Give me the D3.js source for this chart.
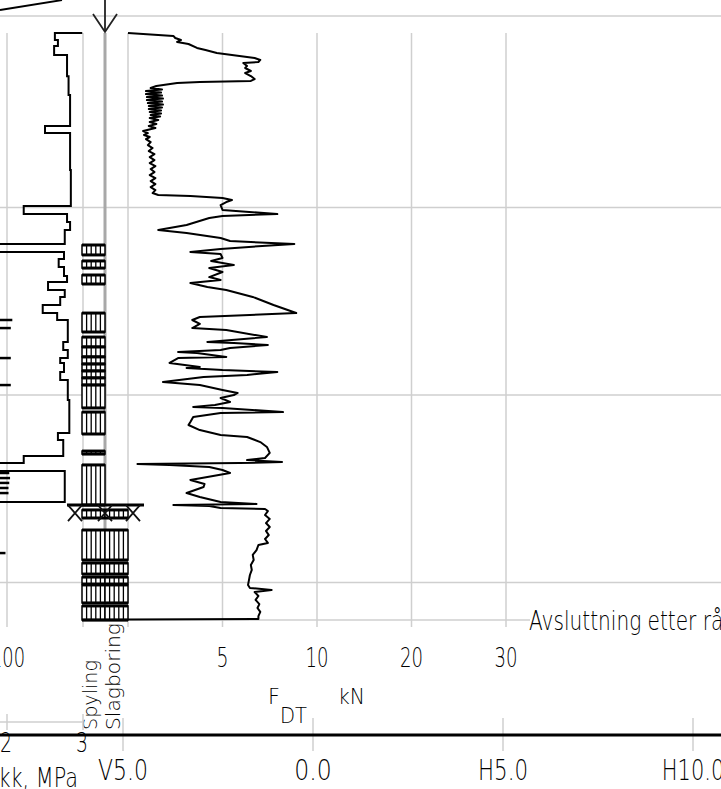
<!DOCTYPE html>
<html lang="no">
<head>
<meta charset="UTF-8">
<title>Totalsondering</title>
<style>
  body { margin: 0; background: #fff; }
  svg { display: block; background: #fff; }
  text { font-family: "DejaVu Sans", "Liberation Sans", sans-serif; font-weight: 300; fill: #000; }
</style>
</head>
<body>
<svg id="chart" width="721" height="789"></svg>
<script src="https://d3js.org/d3.v7.min.js"></script>
<script>
// ticks
const fdtTicks = [5, 10, 20, 30];
const pressureTicks = [2, 3];
const deviationTicks = [-5, 0, 5, 10];
const depthGrid = [1, 2, 3];

// F_DT (kN) against depth (m)
const fdtData = [
  [0.069, 0], [0.085, 2.4], [0.096, 2.5], [0.107, 2.8], [0.117, 2.6], [0.128, 3.2],
  [0.149, 3.65], [0.160, 4.1], [0.176, 4.7], [0.181, 5.1], [0.192, 5.9], [0.203, 6.7],
  [0.213, 7.0], [0.224, 6.9], [0.229, 6.1], [0.245, 6.3], [0.256, 6.2], [0.272, 6.5],
  [0.283, 6.2], [0.299, 6.5], [0.315, 6.7], [0.325, 6.5], [0.331, 3.8], [0.336, 2.6],
  [0.352, 1.5], [0.363, 1.2], [0.371, 1.8], [0.379, 0.95], [0.387, 1.75], [0.395, 0.95],
  [0.403, 1.8], [0.411, 1.0], [0.419, 1.85], [0.427, 1.0], [0.435, 1.8], [0.443, 1.05],
  [0.451, 1.85], [0.459, 1.1], [0.467, 1.8], [0.475, 1.1], [0.483, 1.75], [0.491, 1.15],
  [0.499, 1.75], [0.507, 1.2], [0.515, 1.7], [0.523, 1.15], [0.533, 1.6], [0.544, 1.15],
  [0.555, 1.5], [0.565, 1.1], [0.576, 1.45], [0.592, 0.8], [0.603, 1.05], [0.613, 0.85],
  [0.624, 1.15], [0.635, 0.95], [0.651, 1.2], [0.667, 1.05], [0.683, 1.3], [0.699, 1.1],
  [0.715, 1.4], [0.731, 1.15], [0.747, 1.4], [0.763, 1.15], [0.779, 1.45], [0.795, 1.2],
  [0.811, 1.4], [0.827, 1.15], [0.843, 1.45], [0.859, 1.2], [0.875, 1.45], [0.891, 1.2],
  [0.907, 1.45], [0.923, 1.3], [0.933, 1.6], [0.939, 3.3], [0.949, 5.0], [0.960, 5.5],
  [0.971, 5.2], [0.987, 4.9], [1.013, 5.0], [1.035, 7.9], [1.045, 5.0], [1.056, 4.3],
  [1.093, 3.1], [1.120, 1.6], [1.136, 3.1], [1.163, 4.9], [1.179, 5.4], [1.195, 8.8],
  [1.205, 7.1], [1.221, 4.9], [1.237, 3.3], [1.248, 4.9], [1.269, 5.0], [1.285, 4.4],
  [1.307, 5.6], [1.323, 4.3], [1.344, 5.0], [1.371, 4.3], [1.387, 4.9], [1.403, 3.3],
  [1.424, 4.2], [1.440, 5.2], [1.477, 6.6], [1.520, 7.7], [1.563, 8.9], [1.584, 3.8],
  [1.600, 3.4], [1.621, 3.8], [1.643, 3.4], [1.653, 5.2], [1.691, 7.35], [1.717, 4.2],
  [1.723, 5.6], [1.733, 7.4], [1.749, 5.4], [1.760, 4.9], [1.771, 2.65], [1.776, 3.65],
  [1.797, 5.2], [1.803, 2.65], [1.829, 2.2], [1.851, 3.8], [1.856, 3.1], [1.867, 5.0],
  [1.877, 7.9], [1.893, 6.3], [1.904, 4.0], [1.931, 1.85], [1.947, 3.8], [1.973, 5.0],
  [1.989, 5.8], [2.000, 5.6], [2.016, 4.9], [2.037, 5.4], [2.053, 4.6], [2.064, 3.45],
  [2.069, 5.0], [2.091, 8.2], [2.096, 4.9], [2.117, 3.45], [2.144, 3.3], [2.160, 3.2],
  [2.187, 3.8], [2.213, 4.9], [2.224, 6.3], [2.251, 7.0], [2.277, 7.35], [2.309, 7.5],
  [2.336, 7.25], [2.347, 6.3], [2.357, 8.15], [2.363, 5.9], [2.368, 0.5], [2.373, 2.2],
  [2.384, 4.3], [2.400, 5.0], [2.416, 5.4], [2.453, 3.3], [2.475, 4.05], [2.491, 4.0],
  [2.523, 3.1], [2.544, 3.8], [2.571, 4.9], [2.581, 6.8], [2.587, 2.4], [2.592, 4.3],
  [2.603, 4.9], [2.608, 7.25], [2.619, 7.4], [2.640, 7.25], [2.661, 7.5], [2.683, 7.3],
  [2.704, 7.5], [2.725, 7.3], [2.747, 7.45], [2.768, 7.25], [2.789, 7.4], [2.800, 6.9],
  [2.827, 6.8], [2.853, 6.6], [2.880, 6.65], [2.907, 6.5], [2.933, 6.55], [2.960, 6.45],
  [2.987, 6.4], [3.013, 6.35], [3.029, 6.45], [3.040, 7.6], [3.051, 6.7], [3.072, 6.9],
  [3.093, 6.75], [3.115, 6.95], [3.136, 6.85], [3.157, 7.0], [3.179, 6.9], [3.195, 6.9],
  [3.197, 0]
];

// pressure (MPa), stepwise: value holds from this depth to the next
const pressureData = [
  [0.069, 2.99], [0.069, 2.63], [0.107, 2.67], [0.139, 2.62], [0.187, 2.79], [0.300, 2.81],
  [0.400, 2.83], [0.565, 2.50], [0.603, 2.83], [0.800, 2.84], [0.992, 2.22], [1.035, 2.79],
  [1.077, 2.83], [1.120, 2.76], [1.195, 1.40], [1.237, 2.75], [1.275, 2.68], [1.317, 2.75],
  [1.365, 2.79], [1.397, 2.54], [1.440, 2.76], [1.477, 2.70], [1.520, 2.47], [1.563, 2.66],
  [1.600, 2.80], [1.717, 2.74], [1.760, 2.80], [1.803, 2.70], [1.829, 2.75], [1.877, 2.70],
  [1.920, 2.80], [2.027, 2.82], [2.203, 2.67], [2.240, 2.74], [2.325, 2.22], [2.363, 1.40],
  [2.405, 2.76], [2.571, 1.40], [3.200, 1.40]
];

// second pressure trace, only its peaks reach into view
const pressureSpikes = [
  [1.600, 2.07], [1.643, 2.05], [1.803, 2.05], [1.947, 2.05], [2.416, 2.03],
  [2.443, 2.04], [2.469, 2.03], [2.496, 2.02], [2.523, 2.02], [2.843, 1.98]
];

// drilling mode intervals [from, to] (m)
const spylingBlocks = [
  [1.200, 1.253], [1.285, 1.323], [1.360, 1.408], [1.563, 1.664], [1.691, 1.744],
  [1.744, 1.797], [1.797, 1.835], [1.835, 1.872], [1.872, 1.909], [1.909, 1.947],
  [1.947, 2.069], [2.091, 2.208], [2.299, 2.315], [2.373, 2.587], [2.613, 2.656],
  [2.720, 2.880], [2.896, 2.955], [2.971, 3.008], [3.013, 3.109], [3.125, 3.200]
];
const slagBlocks = [
  [2.613, 2.656], [2.720, 2.880], [2.896, 2.955], [2.971, 3.008], [3.013, 3.109], [3.125, 3.200]
];
const rockDepth = 2.587;
const endDepth = 3.2;
const stopText = "Avsluttning etter rådgivers ønske";

const svg = d3.select("#chart");

const y = d3.scaleLinear().domain([0, 3]).range([20, 582.5]);
const fx = d3.scaleLinear().domain([0, 10, 30]).range([128, 317, 506]);
const px = d3.scaleLinear().domain([2, 3]).range([7, 83]);
const dev = d3.scaleLinear().domain([-5, 10]).range([123, 693]);

const grid = "#cfcfcf";
const yTop = y(0.069);
const yEnd = y(endDepth);

function label(x, yy, s, size, len, anchor) {
  return svg.append("text")
    .attr("x", x).attr("y", yy)
    .attr("font-size", size)
    .attr("text-anchor", anchor || "middle")
    .attr("textLength", len)
    .attr("lengthAdjust", "spacingAndGlyphs")
    .text(s);
}

// gridlines
svg.append("line").attr("x1", 0).attr("x2", 721).attr("y1", 16).attr("y2", 16)
  .attr("stroke", grid).attr("stroke-width", 1.5);

const vLines = pressureTicks.map(px).concat([fx(0)], fdtTicks.map(fx));
svg.selectAll(".vgrid").data(vLines).join("line")
  .attr("x1", d => d).attr("x2", d => d)
  .attr("y1", yTop).attr("y2", yEnd + 7)
  .attr("stroke", grid).attr("stroke-width", 1.5);

svg.selectAll(".hgrid").data(depthGrid).join("line")
  .attr("x1", 0).attr("x2", 721)
  .attr("y1", d => y(d)).attr("y2", d => y(d))
  .attr("stroke", grid).attr("stroke-width", 1.5);

svg.append("line").attr("x1", fx(0)).attr("x2", 530).attr("y1", yEnd).attr("y2", yEnd)
  .attr("stroke", grid).attr("stroke-width", 1.5);

// centre line of the drill column
svg.append("line").attr("x1", 105).attr("x2", 105).attr("y1", yTop).attr("y2", yEnd)
  .attr("stroke", "#a8a8a8").attr("stroke-width", 3);

// drilling mode blocks
function drawBlocks(blocks, x0, x1) {
  const w = x1 - x0;
  const g = svg.append("g");
  blocks.forEach(b => {
    const t = y(b[0]), h = y(b[1]) - y(b[0]);
    g.append("rect").attr("x", x0).attr("y", t).attr("width", w).attr("height", h)
      .attr("fill", "#fff").attr("stroke", "#000").attr("stroke-width", 1.5);
    for (let k = 1; k < 5; k++) {
      const xx = x0 + k * w / 5;
      g.append("line").attr("x1", xx).attr("x2", xx).attr("y1", t).attr("y2", t + h)
        .attr("stroke", "#000").attr("stroke-width", 1.3);
    }
    [t, t + h].forEach(yy => g.append("line").attr("x1", x0).attr("x2", x1)
      .attr("y1", yy).attr("y2", yy).attr("stroke", "#000").attr("stroke-width", 3));
  });
}
drawBlocks(spylingBlocks, 82, 105);
drawBlocks(slagBlocks, 105, 128);

// rock / stop marker
const yr = y(rockDepth);
svg.append("line").attr("x1", 67).attr("x2", 144).attr("y1", yr).attr("y2", yr)
  .attr("stroke", "#000").attr("stroke-width", 3);
[75, 105, 133].forEach(cx => {
  svg.append("path")
    .attr("d", `M${cx - 7},${yr} L${cx + 7},${yr + 16} M${cx + 7},${yr} L${cx - 7},${yr + 16}`)
    .attr("stroke", "#111").attr("stroke-width", 1.8).attr("fill", "none");
});

// pressure curve
svg.append("path").datum(pressureData)
  .attr("d", d3.line().x(d => px(d[1])).y(d => y(d[0])).curve(d3.curveStepBefore))
  .attr("fill", "none").attr("stroke", "#000").attr("stroke-width", 2);

svg.selectAll(".spike").data(pressureSpikes).join("line")
  .attr("x1", -5).attr("x2", d => px(d[1]))
  .attr("y1", d => y(d[0])).attr("y2", d => y(d[0]))
  .attr("stroke", "#000").attr("stroke-width", 2.5);

// F_DT curve
svg.append("path").datum(fdtData)
  .attr("d", d3.line().x(d => fx(d[1])).y(d => y(d[0])))
  .attr("fill", "none").attr("stroke", "#000").attr("stroke-width", 2)
  .attr("stroke-linejoin", "round");

// bottom edge under curve and blocks
svg.append("line").attr("x1", 82).attr("x2", fx(0)).attr("y1", yEnd).attr("y2", yEnd)
  .attr("stroke", "#000").attr("stroke-width", 2.5);

// arrow and top line
svg.append("line").attr("x1", 105).attr("x2", 105).attr("y1", 0).attr("y2", 32)
  .attr("stroke", "#222").attr("stroke-width", 1.8);
svg.append("path").attr("d", "M93,14 L105,32 L117,14")
  .attr("fill", "none").attr("stroke", "#222").attr("stroke-width", 1.8);
svg.append("line").attr("x1", 0).attr("x2", 62).attr("y1", 10).attr("y2", 0)
  .attr("stroke", "#000").attr("stroke-width", 1.8);

// labels in the plot
label(529, 630, stopText, 27, 333, "start");
label(px(2) + 1, 667, "100", 27, 34);
fdtTicks.forEach(t => label(fx(t), 667, String(t), 27, t < 10 ? 12 : 23));

label(268, 704, "F", 22, 12, "start");
label(280, 723, "DT", 22, 27, "start");
label(338, 704, "kN", 22, 27, "start");

svg.append("text").attr("transform", "translate(97,730) rotate(-90)")
  .attr("font-size", 20).attr("textLength", 70).attr("lengthAdjust", "spacingAndGlyphs")
  .text("Spyling");
svg.append("text").attr("transform", "translate(120,730) rotate(-90)")
  .attr("font-size", 20).attr("textLength", 107).attr("lengthAdjust", "spacingAndGlyphs")
  .text("Slagboring");

// pressure axis at the bottom left
svg.append("line").attr("x1", 0).attr("x2", px(3)).attr("y1", 722).attr("y2", 722)
  .attr("stroke", grid).attr("stroke-width", 1.5);
svg.selectAll(".ptick").data(pressureTicks).join("line")
  .attr("x1", d => px(d)).attr("x2", d => px(d)).attr("y1", 714).attr("y2", 730)
  .attr("stroke", grid).attr("stroke-width", 1.5);

// deviation axis
svg.selectAll(".dtick").data(deviationTicks).join("line")
  .attr("x1", d => dev(d)).attr("x2", d => dev(d)).attr("y1", 718).attr("y2", 751)
  .attr("stroke", grid).attr("stroke-width", 1.5);
svg.append("line").attr("x1", 0).attr("x2", 721).attr("y1", 735).attr("y2", 735)
  .attr("stroke", "#000").attr("stroke-width", 3);

pressureTicks.forEach(t => label(px(t) - 1, 752, String(t), 26, 12));
label(78, 787, "Trykk, MPa", 26, 110, "end");

const devFmt = v => v < 0 ? "V" + Math.abs(v).toFixed(1) : v > 0 ? "H" + v.toFixed(1) : v.toFixed(1);
deviationTicks.forEach(t => {
  const s = devFmt(t);
  label(dev(t), 780, s, 28, s.length * 12.5);
});
</script>
</body>
</html>
